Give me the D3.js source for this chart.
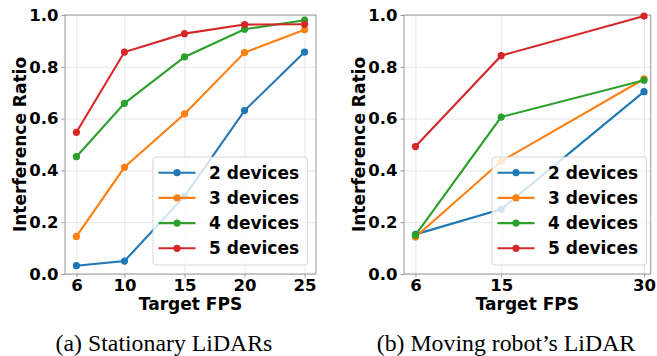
<!DOCTYPE html>
<html>
<head>
<meta charset="utf-8">
<script src="https://cdn.jsdelivr.net/npm/d3@7"></script>
<style>
  body { margin: 0; background: #fff; }
  svg { display: block; }
</style>
</head>
<body>
<div id="chart"></div>
<script>
// series names and values
var devices = ["2 devices", "3 devices", "4 devices", "5 devices"];
var colors = ["#1f77b4", "#ff7f0e", "#2ca02c", "#d62728"];
var yTicks = [0, 0.2, 0.4, 0.6, 0.8, 1.0];

// (a) stationary lidars
var fpsA = [6, 10, 15, 20, 25];
var statDev2 = [0.032, 0.050, 0.30, 0.631, 0.857];
var statDev3 = [0.145, 0.412, 0.618, 0.855, 0.943];
var statDev4 = [0.453, 0.659, 0.838, 0.945, 0.980];
var statDev5 = [0.547, 0.857, 0.928, 0.963, 0.964];

// (b) moving robot's lidar
var fpsB = [6, 15, 30];
var moveDev2 = [0.153, 0.250, 0.704];
var moveDev3 = [0.143, 0.435, 0.753];
var moveDev4 = [0.150, 0.606, 0.748];
var moveDev5 = [0.492, 0.843, 0.996];

var W = 657, H = 356;
var svg = d3.select("#chart").append("svg")
    .attr("width", W)
    .attr("height", H);

var font = "'DejaVu Sans', sans-serif";

function drawPanel(cfg) {
    var x = d3.scaleLinear().domain(cfg.xDomain).range([cfg.left, cfg.right]);
    var y = d3.scaleLinear().domain([0, 1]).range([274, 15]);
    var g = svg.append("g");

    // grid
    g.append("g")
        .attr("transform", "translate(0,274)")
        .call(d3.axisBottom(x).tickValues(cfg.fps).tickSize(-259).tickFormat(""))
        .call(s => s.select(".domain").remove())
        .selectAll("line").attr("stroke", "#e3e3e3").attr("stroke-width", 0.9);
    g.append("g")
        .attr("transform", "translate(" + cfg.left + ",0)")
        .call(d3.axisLeft(y).tickValues(yTicks).tickSize(-(cfg.right - cfg.left)).tickFormat(""))
        .call(s => s.select(".domain").remove())
        .selectAll("line").attr("stroke", "#e3e3e3").attr("stroke-width", 0.9);

    // frame
    g.append("rect")
        .attr("x", cfg.left).attr("y", 15)
        .attr("width", cfg.right - cfg.left).attr("height", 259)
        .attr("fill", "none").attr("stroke", "#999").attr("stroke-width", 1);

    // axes
    var xa = g.append("g")
        .attr("transform", "translate(0,274)")
        .call(d3.axisBottom(x).tickValues(cfg.fps).tickSize(3.5).tickPadding(1.5));
    var ya = g.append("g")
        .attr("transform", "translate(" + cfg.left + ",0)")
        .call(d3.axisLeft(y).tickValues(yTicks).tickSize(3.5).tickPadding(3).tickFormat(d3.format(".1f")));
    [xa, ya].forEach(function (a) {
        a.select(".domain").remove();
        a.selectAll("line").attr("stroke", "#999");
        a.selectAll("text")
            .attr("font-family", font)
            .attr("font-weight", "bold")
            .attr("font-size", "16.5px")
            .attr("fill", "#000");
    });

    // lines
    var line = d3.line()
        .x(function (d) { return x(d[0]); })
        .y(function (d) { return y(d[1]); });

    cfg.series.forEach(function (vals, i) {
        var pts = cfg.fps.map(function (f, j) { return [f, vals[j]]; });
        g.append("path")
            .datum(pts)
            .attr("d", line)
            .attr("fill", "none")
            .attr("stroke", colors[i])
            .attr("stroke-width", 2.1);
        g.selectAll(".dot" + i)
            .data(pts)
            .enter().append("circle")
            .attr("cx", function (d) { return x(d[0]); })
            .attr("cy", function (d) { return y(d[1]); })
            .attr("r", 3.6)
            .attr("fill", colors[i]);
    });

    // legend
    var lg = g.append("g");
    lg.append("rect")
        .attr("x", cfg.legX).attr("y", 157)
        .attr("width", 154.5).attr("height", 108)
        .attr("rx", 3)
        .attr("fill", "#fff").attr("fill-opacity", 0.8)
        .attr("stroke", "#ccc").attr("stroke-opacity", 0.8);
    devices.forEach(function (name, i) {
        var ry = 172.7 + i * 25.2;
        lg.append("line")
            .attr("x1", cfg.legX + 5.5).attr("x2", cfg.legX + 42.5)
            .attr("y1", ry).attr("y2", ry)
            .attr("stroke", colors[i]).attr("stroke-width", 2.1);
        lg.append("circle")
            .attr("cx", cfg.legX + 24).attr("cy", ry).attr("r", 3.6)
            .attr("fill", colors[i]);
        lg.append("text")
            .attr("x", cfg.legX + 56).attr("y", ry + 6)
            .attr("font-family", font)
            .attr("font-weight", "bold")
            .attr("font-size", "17px")
            .text(name);
    });

    // axis titles
    g.append("text")
        .attr("x", (cfg.left + cfg.right) / 2).attr("y", 309.5)
        .attr("text-anchor", "middle")
        .attr("font-family", font).attr("font-weight", "bold").attr("font-size", "17px")
        .text("Target FPS");
    g.append("text")
        .attr("transform", "translate(" + cfg.yLabelX + ",144.5) rotate(-90)")
        .attr("text-anchor", "middle")
        .attr("font-family", font).attr("font-weight", "bold").attr("font-size", "17px")
        .text("Interference Ratio");

    // caption
    svg.append("text")
        .attr("x", cfg.capX).attr("y", 351)
        .attr("text-anchor", "middle")
        .attr("font-family", "'Liberation Serif', 'Times New Roman', serif")
        .attr("font-size", "23.8px")
        .text(cfg.caption);
}

drawPanel({
    fps: fpsA, xDomain: [5.05, 25.95], left: 65, right: 316,
    series: [statDev2, statDev3, statDev4, statDev5],
    legX: 153, yLabelX: 25.5, capX: 164, caption: "(a) Stationary LiDARs"
});
drawPanel({
    fps: fpsB, xDomain: [4.8, 30.7], left: 404, right: 650.7,
    series: [moveDev2, moveDev3, moveDev4, moveDev5],
    legX: 492, yLabelX: 364.5, capX: 506, caption: "(b) Moving robot\u2019s LiDAR"
});
</script>
</body>
</html>
